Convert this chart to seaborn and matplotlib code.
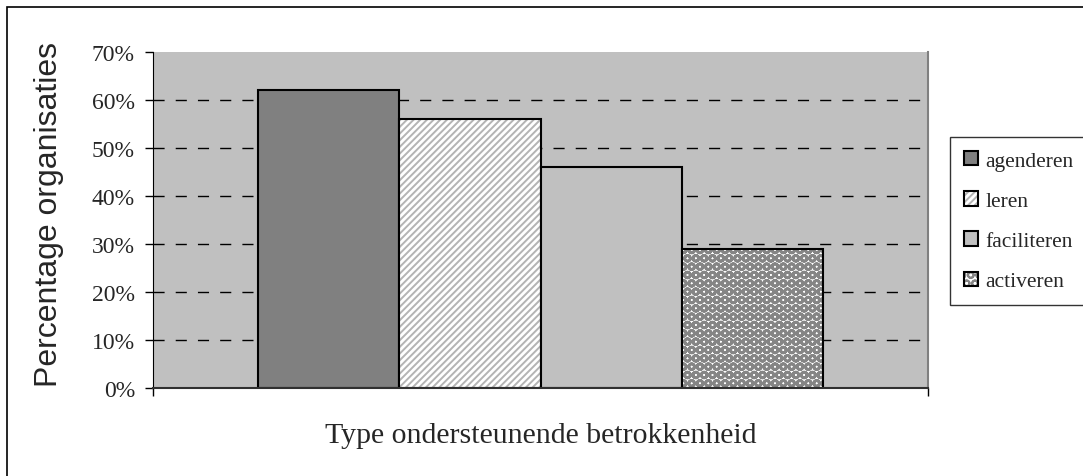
import matplotlib
matplotlib.use("Agg")
import matplotlib.pyplot as plt
import matplotlib.colors as mcolors
from matplotlib.patches import Rectangle
import seaborn as sns
import pandas as pd

# ---- data ----
categories = ["agenderen", "leren", "faciliteren", "activeren"]
values = [62, 56, 46, 29]
yticks = [0, 10, 20, 30, 40, 50, 60, 70]
ytick_labels = ["0%", "10%", "20%", "30%", "40%", "50%", "60%", "70%"]
x_label = "Type ondersteunende betrokkenheid"
y_label = "Percentage organisaties"

# ---- style ----
face_colors = ["#808080", "#ffffff", "#c0c0c0", "#ffffff"]
hatches = ["", "/////", "", "OO"]
hatch_colors = ["#808080", "#b4b4b4", "#c0c0c0", "#858585"]
hatch_widths = [1.0, 1.4, 1.0, 2.0]

sns.set_style("white")
plt.rcParams["font.family"] = ["Liberation Serif", "DejaVu Serif"]
plt.rcParams["hatch.linewidth"] = 1.4

W, H = 1083, 477
fig = plt.figure(figsize=(W / 100, H / 100), dpi=100)
ax = fig.add_axes([153 / W, 1 - 389 / H, 775 / W, 336 / H])
ax.set_facecolor("#c0c0c0")

df = pd.DataFrame({"groep": [""] * len(categories), "type": categories, "pct": values})
sns.barplot(data=df, x="groep", y="pct", hue="type", hue_order=categories,
            palette=face_colors, saturation=1, width=0.728, ax=ax,
            legend=False, edgecolor="black", linewidth=1.5, zorder=3)

bars = [p for p in ax.patches][:len(categories)]
for p, h, hc, hw in zip(bars, hatches, hatch_colors, hatch_widths):
    if h:
        p.set_hatch(h)
    p._hatch_color = mcolors.to_rgba(hc)
    if hasattr(p, "set_hatch_linewidth"):
        p.set_hatch_linewidth(hw)

ax.set_xlim(-0.5, 0.5)
ax.set_ylim(0, 70)
ax.set_yticks(yticks)
ax.set_yticklabels(ytick_labels, fontsize=17)
ax.set_xticks([-0.5, 0.5])
ax.set_xticklabels(["", ""])
ax.tick_params(axis="both", direction="out", length=6, width=1, color="black",
               left=True, bottom=True, pad=7)

for v in yticks[1:-1]:
    ax.axhline(v, color="black", lw=1, ls=(0, (8, 8)), zorder=1)

ax.spines["top"].set_visible(False)
ax.spines["right"].set_color("#808080")
ax.spines["right"].set_linewidth(1.5)
ax.spines["left"].set_color("black")
ax.spines["bottom"].set_color("#303030")
ax.spines["bottom"].set_linewidth(1.5)
for s in ax.spines.values():
    s.set_zorder(4)

ax.set_ylabel(y_label, fontsize=23, family=["Liberation Sans", "DejaVu Sans"])
ax.yaxis.set_label_coords(-0.115, 0.518)
ax.set_xlabel(x_label, fontsize=21.5)
ax.xaxis.set_label_coords(0.5, -0.100)

leg = fig.legend(handles=bars, labels=categories, loc="upper left",
                 bbox_to_anchor=(950 / W, 1 - 138 / H), fontsize=15.5,
                 frameon=True, fancybox=False, edgecolor="black",
                 handlelength=0.65, handleheight=0.65, handletextpad=0.35,
                 labelspacing=0.95, borderpad=0.65, borderaxespad=0)
leg.get_frame().set_linewidth(1.0)

fig.add_artist(Rectangle((7 / W, -0.1), 1.2, 1 - 8 / H + 0.1,
                         transform=fig.transFigure, fill=False,
                         edgecolor="black", lw=1.2))

fig.savefig("out.png", dpi=100, facecolor="white")
